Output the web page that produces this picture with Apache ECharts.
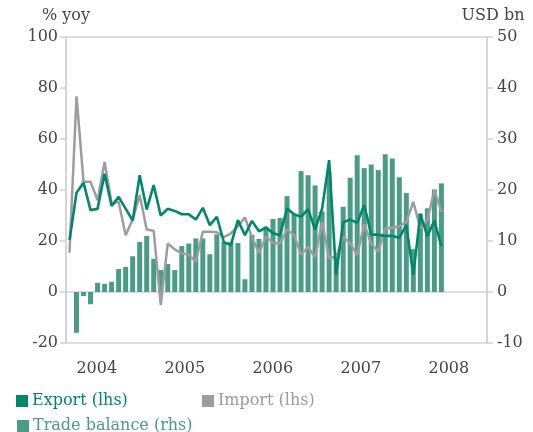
<!DOCTYPE html>
<html>
<head>
<meta charset="utf-8">
<script src="https://cdn.jsdelivr.net/npm/echarts@6/dist/echarts.min.js"></script>
<style>
  html, body { margin: 0; padding: 0; background: #fff; }
  #chart { width: 533px; height: 432px; }
</style>
</head>
<body>
<div id="chart"></div>
<script>
// monthly points, Sep 2003 onwards; the axis leaves a few empty months on the right
const months = []
for (let k = 0; k < 60; k++) {
  const y = 2003 + Math.floor((8 + k) / 12)
  const m = ((8 + k) % 12) + 1
  months.push(y + '-' + (m < 10 ? '0' + m : m))
}

const yearLabels = [2004, 2005, 2006, 2007, 2008]

// % yoy
const exportYoy = [
  20.4, 38.9, 42.8, 32.1, 32.6, 46.4, 33.7, 37.3, 32.7, 28.0,
  45.8, 32.4, 41.9, 30.0, 32.6, 31.8, 30.5, 30.5, 28.4, 33.0,
  26.2, 29.5, 19.5, 18.4, 28.2, 22.3, 27.9, 23.8, 25.3, 23.0,
  22.3, 32.7, 30.5, 29.5, 32.5, 24.5, 32.7, 51.7, 6.7, 27.3,
  28.4, 27.1, 34.1, 22.6, 22.4, 22.0, 22.0, 21.3, 26.2, 6.7,
  30.5, 21.9, 27.9, 18.0
]
const importYoy = [
  15.4, 76.7, 43.2, 43.2, 36.0, 51.0, 34.7, 35.4, 22.3, 28.4,
  38.0, 24.5, 24.0, -5.1, 19.0, 16.7, 15.1, 14.7, 11.9, 23.6,
  23.6, 23.4, 21.5, 23.0, 25.8, 29.2, 21.5, 15.3, 21.7, 19.3,
  19.0, 24.5, 22.3, 14.7, 17.7, 13.6, 27.5, 13.2, 13.8, 21.7,
  19.0, 14.5, 26.6, 19.0, 15.8, 24.9, 25.2, 25.8, 27.5, 35.4,
  24.9, 28.2, 39.9, 31.4
]
// USD bn
const tradeBalance = [
  null, -8.0, -0.8, -2.4, 1.8, 1.6, 2.0, 4.5, 4.9, 7.0,
  9.8, 11.0, 6.5, 4.3, 5.5, 4.3, 9.0, 9.5, 10.5, 10.5,
  7.4, 11.3, 9.8, 9.8, 9.6, 2.5, 11.2, 10.4, 12.8, 14.3,
  14.5, 18.8, 15.3, 23.7, 22.9, 20.9, 15.8, 23.5, 7.0, 16.7,
  22.4, 26.8, 24.3, 25.0, 23.9, 27.0, 26.2, 22.5, 19.4, 8.4,
  15.4, 16.4, 20.1, 21.3
]

const font = 'DejaVu Serif'
const labelColor = '#464646'
const frameColor = '#d2d2d2'
const exportColor = '#00876c'
const importColor = '#9c9ca1'
const balanceColor = '#4b9c87'

const legendItem = (name, color, left, top) => ({
  data: [{ name: name, itemStyle: { color: color } }],
  left: left,
  top: top,
  icon: 'rect',
  itemWidth: 12,
  itemHeight: 12,
  itemGap: 5,
  textStyle: { color: color, fontFamily: font, fontSize: 16, padding: [0, 0, 0, -1] }
})

const option = {
  animation: false,
  textStyle: { fontFamily: font },
  grid: {
    left: 66,
    right: 46,
    top: 37,
    bottom: 89,
    show: true,
    borderColor: frameColor,
    borderWidth: 1.5
  },
  legend: [
    legendItem('Export (lhs)', exportColor, 11, 388),
    legendItem('Import (lhs)', importColor, 197, 388),
    legendItem('Trade balance (rhs)', balanceColor, 12, 413)
  ],
  xAxis: [
    {
      type: 'category',
      data: months,
      boundaryGap: true,
      axisLine: { onZero: true, lineStyle: { color: frameColor, width: 1.5 } },
      axisTick: { show: false },
      axisLabel: { show: false }
    },
    {
      type: 'value',
      position: 'bottom',
      min: 2003.65,
      max: 2008.434,
      axisLine: { show: false },
      axisTick: { show: false },
      splitLine: { show: false },
      axisLabel: {
        customValues: yearLabels,
        formatter: (v) => String(v),
        color: labelColor,
        fontFamily: font,
        fontSize: 16,
        margin: 18
      }
    }
  ],
  yAxis: [
    {
      type: 'value',
      min: -20,
      max: 100,
      interval: 20,
      name: '% yoy',
      nameLocation: 'end',
      nameGap: 13,
      nameTextStyle: { color: labelColor, fontFamily: font, fontSize: 16, align: 'center' },
      axisLine: { show: true, lineStyle: { color: frameColor, width: 1.5 } },
      axisTick: { show: true, length: 6, lineStyle: { color: frameColor, width: 1.5 } },
      splitLine: { show: false },
      axisLabel: { color: labelColor, fontFamily: font, fontSize: 16, margin: 8 }
    },
    {
      type: 'value',
      min: -10,
      max: 50,
      interval: 10,
      name: 'USD bn',
      nameLocation: 'end',
      nameGap: 13,
      nameTextStyle: { color: labelColor, fontFamily: font, fontSize: 16, align: 'center', padding: [0, 0, 0, 12] },
      axisLine: { show: true, lineStyle: { color: frameColor, width: 1.5 } },
      axisTick: { show: true, length: 6, lineStyle: { color: frameColor, width: 1.5 } },
      splitLine: { show: false },
      axisLabel: { color: labelColor, fontFamily: font, fontSize: 16, margin: 10 }
    }
  ],
  series: [
    {
      name: 'Trade balance (rhs)',
      type: 'bar',
      yAxisIndex: 1,
      barWidth: 5,
      data: tradeBalance,
      itemStyle: { color: balanceColor }
    },
    {
      name: 'Import (lhs)',
      type: 'line',
      yAxisIndex: 0,
      data: importYoy,
      symbol: 'none',
      lineStyle: { color: importColor, width: 2.5 },
      itemStyle: { color: importColor }
    },
    {
      name: 'Export (lhs)',
      type: 'line',
      yAxisIndex: 0,
      data: exportYoy,
      symbol: 'none',
      lineStyle: { color: exportColor, width: 2.6 },
      itemStyle: { color: exportColor }
    }
  ]
}

const myChart = echarts.init(document.getElementById('chart'))
option && myChart.setOption(option)
</script>
</body>
</html>
